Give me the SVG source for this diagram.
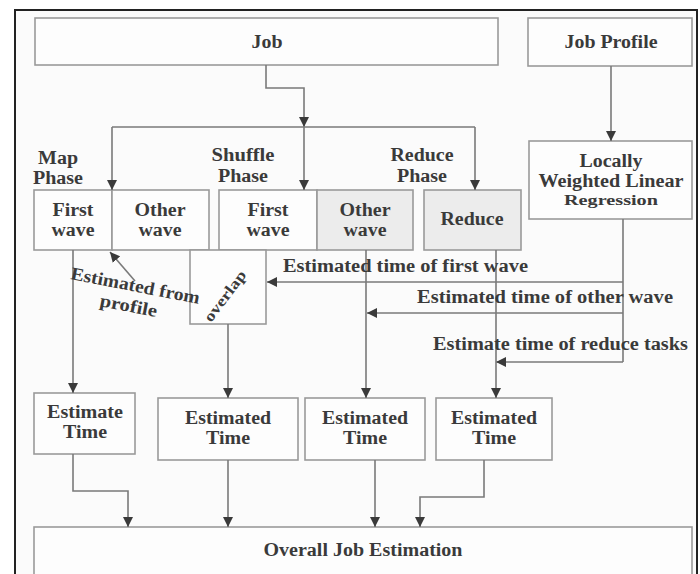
<svg xmlns="http://www.w3.org/2000/svg" width="700" height="574" viewBox="0 0 700 574">
<defs>
<marker id="ah" viewBox="0 0 10 10" refX="10" refY="5" markerWidth="10" markerHeight="10" markerUnits="userSpaceOnUse" orient="auto">
<path d="M0,0 L10,5 L0,10 z" fill="#3a3a3a"/>
</marker>
<style>
.box{fill:#fdfdfd;stroke:#9a9a9a;stroke-width:1.6}
.shade{fill:#ececec;stroke:#9a9a9a;stroke-width:1.6}
text{font-family:"Liberation Serif","Times New Roman",serif;font-weight:bold;font-size:18px;fill:#3a3a3a}
.t{text-anchor:middle}
.s{font-size:15px}
.c{fill:none;stroke:#7a7a7a;stroke-width:1.6}
.a{marker-end:url(#ah)}
</style>
</defs>
<rect x="0" y="0" width="700" height="574" fill="#ffffff"/>
<rect x="15" y="10" width="682" height="600" fill="#fbfbfb" stroke="#222" stroke-width="2"/>

<g id="job"><rect class="box" x="35" y="18" width="463" height="47"/><text class="t" x="267" y="48" textLength="31" lengthAdjust="spacingAndGlyphs">Job</text></g>
<g id="job-profile"><rect class="box" x="528" y="18" width="164" height="48"/><text class="t" x="611" y="48" textLength="93" lengthAdjust="spacingAndGlyphs">Job Profile</text></g>

<g id="map-phase-label"><text class="t" x="58" y="164" textLength="40" lengthAdjust="spacingAndGlyphs">Map</text><text class="t" x="58" y="184" textLength="50" lengthAdjust="spacingAndGlyphs">Phase</text></g>
<g id="shuffle-phase-label"><text class="t" x="243" y="161" textLength="63" lengthAdjust="spacingAndGlyphs">Shuffle</text><text class="t" x="243" y="182" textLength="50" lengthAdjust="spacingAndGlyphs">Phase</text></g>
<g id="reduce-phase-label"><text class="t" x="422" y="161" textLength="63" lengthAdjust="spacingAndGlyphs">Reduce</text><text class="t" x="422" y="182" textLength="50" lengthAdjust="spacingAndGlyphs">Phase</text></g>

<g id="map-first-wave"><rect class="box" x="34" y="190" width="78" height="60"/><text class="t" x="73" y="216" textLength="41" lengthAdjust="spacingAndGlyphs">First</text><text class="t" x="73" y="236" textLength="43" lengthAdjust="spacingAndGlyphs">wave</text></g>
<g id="map-other-wave"><rect class="box" x="112" y="190" width="97" height="60"/><text class="t" x="160" y="216" textLength="51" lengthAdjust="spacingAndGlyphs">Other</text><text class="t" x="160" y="236" textLength="43" lengthAdjust="spacingAndGlyphs">wave</text></g>
<g id="shuffle-first-wave"><rect class="box" x="219" y="190" width="98" height="60"/><text class="t" x="268" y="216" textLength="41" lengthAdjust="spacingAndGlyphs">First</text><text class="t" x="268" y="236" textLength="43" lengthAdjust="spacingAndGlyphs">wave</text></g>
<g id="shuffle-other-wave"><rect class="shade" x="317" y="190" width="96" height="60"/><text class="t" x="365" y="216" textLength="51" lengthAdjust="spacingAndGlyphs">Other</text><text class="t" x="365" y="236" textLength="43" lengthAdjust="spacingAndGlyphs">wave</text></g>
<g id="reduce"><rect class="shade" x="424" y="190" width="97" height="60"/><text class="t" x="472" y="225" textLength="63" lengthAdjust="spacingAndGlyphs">Reduce</text></g>
<g id="lwlr"><rect class="box" x="529" y="141" width="163" height="78"/><text class="t" x="611" y="167" textLength="63" lengthAdjust="spacingAndGlyphs">Locally</text><text class="t" x="611" y="187" textLength="145" lengthAdjust="spacingAndGlyphs">Weighted Linear</text><text class="t s" x="611" y="205" textLength="94" lengthAdjust="spacingAndGlyphs">Regression</text></g>

<g id="overlap"><rect class="box" x="190" y="250" width="76" height="74"/><text class="t s" transform="translate(229,299) rotate(-53)" textLength="60" lengthAdjust="spacingAndGlyphs">overlap</text></g>

<g id="estimate-time-1"><rect class="box" x="34" y="393" width="101" height="61"/><text class="t" x="85" y="418" textLength="76" lengthAdjust="spacingAndGlyphs">Estimate</text><text class="t" x="85" y="438" textLength="44" lengthAdjust="spacingAndGlyphs">Time</text></g>
<g id="estimated-time-2"><rect class="box" x="158" y="398" width="140" height="62"/><text class="t" x="228" y="424" textLength="86" lengthAdjust="spacingAndGlyphs">Estimated</text><text class="t" x="228" y="444" textLength="44" lengthAdjust="spacingAndGlyphs">Time</text></g>
<g id="estimated-time-3"><rect class="box" x="305" y="398" width="120" height="62"/><text class="t" x="365" y="424" textLength="86" lengthAdjust="spacingAndGlyphs">Estimated</text><text class="t" x="365" y="444" textLength="44" lengthAdjust="spacingAndGlyphs">Time</text></g>
<g id="estimated-time-4"><rect class="box" x="436" y="398" width="116" height="62"/><text class="t" x="494" y="424" textLength="86" lengthAdjust="spacingAndGlyphs">Estimated</text><text class="t" x="494" y="444" textLength="44" lengthAdjust="spacingAndGlyphs">Time</text></g>

<g id="overall"><rect class="box" x="34" y="527" width="658" height="60"/><text class="t" x="363" y="556" textLength="199" lengthAdjust="spacingAndGlyphs">Overall Job Estimation</text></g>

<g id="connectors">
<path class="c a" d="M266,65 V88 H304 V127"/>
<path class="c" d="M112,127 H475"/>
<path class="c a" d="M112,127 V190"/>
<path class="c a" d="M304,127 V190"/>
<path class="c a" d="M475,127 V190"/>
<path class="c a" d="M611,66 V141"/>
<path class="c" d="M623,219 V362"/>
<path class="c a" d="M623,282 H267"/>
<path class="c a" d="M623,313 H367"/>
<path class="c a" d="M623,362 H496"/>
<path class="c a" d="M73,250 V393"/>
<path class="c a" d="M228,324 V398"/>
<path class="c a" d="M366,250 V398"/>
<path class="c a" d="M496,250 V398"/>
<path class="c a" d="M135,281 L110,252"/>
<path class="c a" d="M73,454 V491 H128 V527"/>
<path class="c a" d="M228,460 V527"/>
<path class="c a" d="M375,460 V527"/>
<path class="c a" d="M484,460 V497 H420 V527"/>
<text x="283" y="272" textLength="245" lengthAdjust="spacingAndGlyphs">Estimated time of first wave</text>
<text x="417" y="303" textLength="256" lengthAdjust="spacingAndGlyphs">Estimated time of other wave</text>
<text x="433" y="350" textLength="255" lengthAdjust="spacingAndGlyphs">Estimate time of reduce tasks</text>
<text transform="translate(70,279) rotate(11)" textLength="131" lengthAdjust="spacingAndGlyphs">Estimated from</text>
<text transform="translate(99,306) rotate(11)" textLength="58" lengthAdjust="spacingAndGlyphs">profile</text>
</g>
</svg>
